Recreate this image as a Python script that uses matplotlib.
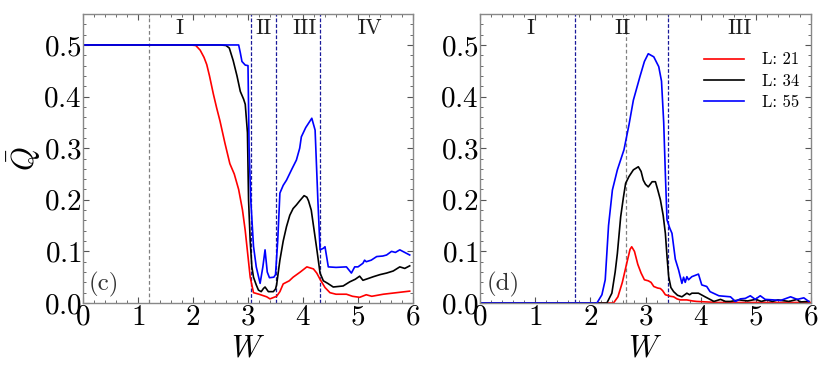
import numpy as np
import matplotlib
matplotlib.use("Agg")
import matplotlib.pyplot as plt
from matplotlib.ticker import MultipleLocator

plt.rcParams['font.family'] = 'serif'
plt.rcParams['font.serif'] = ['cmr10', 'DejaVu Serif']
plt.rcParams['mathtext.fontset'] = 'cm'
plt.rcParams['axes.formatter.use_mathtext'] = True
plt.rcParams['axes.unicode_minus'] = False

# ---------------- panel (c) ----------------
w_c21 = [0, 1.95, 2.05, 2.13, 2.2, 2.25, 2.3, 2.37, 2.43, 2.49, 2.58, 2.67, 2.75, 2.83, 2.9, 2.95, 3.0, 3.04, 3.1,
         3.2, 3.34, 3.4, 3.52, 3.58, 3.64, 3.75, 3.82, 3.95, 4.07, 4.19, 4.25, 4.31, 4.4, 4.49, 4.6, 4.79,
         4.9, 5.03, 5.15, 5.25, 5.46, 5.7, 5.94]
q_c21 = [0.5, 0.5, 0.499, 0.49, 0.476, 0.462, 0.44, 0.405, 0.378, 0.353, 0.31, 0.27, 0.25, 0.22, 0.18, 0.14, 0.09,
         0.05, 0.02, 0.017, 0.012, 0.008, 0.013, 0.022, 0.037, 0.043, 0.05, 0.06, 0.07, 0.066, 0.058, 0.046, 0.03,
         0.02, 0.017, 0.017, 0.013, 0.011, 0.016, 0.013, 0.017, 0.02, 0.023]

w_c34 = [0, 2.5, 2.6, 2.66, 2.73, 2.8, 2.86, 2.92, 2.95, 2.99, 3.01, 3.04, 3.07, 3.1, 3.15, 3.19, 3.24, 3.28, 3.31,
         3.37, 3.42, 3.46, 3.5, 3.52, 3.58, 3.64, 3.7, 3.76, 3.82, 3.88, 3.94, 4.02, 4.07, 4.1, 4.15, 4.19, 4.25,
         4.31, 4.37, 4.45, 4.55, 4.73, 4.85, 4.95, 5.03, 5.09, 5.2, 5.28, 5.4, 5.52, 5.64, 5.76, 5.85, 5.94]
q_c34 = [0.5, 0.5, 0.499, 0.494, 0.47, 0.44, 0.41, 0.395, 0.385, 0.33, 0.2, 0.12, 0.07, 0.05, 0.035, 0.025, 0.022,
         0.028, 0.031, 0.022, 0.022, 0.022, 0.027, 0.035, 0.083, 0.12, 0.148, 0.17, 0.183, 0.19, 0.198, 0.208,
         0.205, 0.198, 0.18, 0.15, 0.105, 0.058, 0.043, 0.038, 0.031, 0.033, 0.041, 0.046, 0.052, 0.044, 0.048,
         0.051, 0.055, 0.058, 0.062, 0.07, 0.067, 0.072]

w_c55 = [0, 2.83, 2.86, 2.89, 2.95, 3.0, 3.02, 3.05, 3.1, 3.15, 3.22, 3.27, 3.31, 3.35, 3.39, 3.47, 3.5, 3.54,
         3.58, 3.64, 3.7, 3.8, 3.88, 3.94, 3.97, 4.05, 4.16, 4.22, 4.27, 4.31, 4.37, 4.4, 4.46, 4.6, 4.79,
         4.88, 4.94, 5.0, 5.09, 5.12, 5.15, 5.24, 5.34, 5.45, 5.52, 5.61, 5.68, 5.76, 5.85, 5.94]
q_c55 = [0.5, 0.5, 0.485, 0.468, 0.461, 0.46, 0.3, 0.2, 0.11, 0.07, 0.038, 0.07, 0.103, 0.06, 0.049, 0.05, 0.055,
         0.12, 0.213, 0.228, 0.238, 0.26, 0.277, 0.3, 0.322, 0.34, 0.358, 0.335, 0.2, 0.103, 0.106, 0.109, 0.07,
         0.069, 0.07, 0.058, 0.07, 0.07, 0.077, 0.083, 0.08, 0.083, 0.09, 0.091, 0.093, 0.1, 0.098, 0.103, 0.098,
         0.093]

# ---------------- panel (d) ----------------
w_d21 = [0, 2.42, 2.5, 2.58, 2.66, 2.72, 2.75, 2.8, 2.86, 2.92, 2.98, 3.05, 3.1, 3.15, 3.22, 3.27, 3.31, 3.36,
         3.45, 3.51, 3.57, 3.63, 3.75, 3.85, 3.93, 4.3, 6.0]
q_d21 = [0, 0, 0.012, 0.04, 0.077, 0.104, 0.109, 0.1, 0.075, 0.058, 0.045, 0.043, 0.04, 0.032, 0.029, 0.028, 0.024,
         0.016, 0.013, 0.012, 0.008, 0.006, 0.006, 0.004, 0.003, 0.001, 0.001]

w_d34 = [0, 2.3, 2.39, 2.45, 2.49, 2.55, 2.6, 2.64, 2.7, 2.78, 2.87, 2.92, 2.96, 3.0, 3.05, 3.12, 3.18, 3.22, 3.27,
         3.32, 3.36, 3.39, 3.42, 3.46, 3.51, 3.58, 3.66, 3.75, 3.8, 3.84, 3.96, 4.08, 4.24, 4.36, 4.45, 4.54, 4.7,
         4.85, 5.0, 5.1, 5.2, 5.3, 5.4, 5.6, 5.75, 5.8, 5.96]
q_d34 = [0, 0, 0.019, 0.06, 0.096, 0.167, 0.205, 0.232, 0.245, 0.258, 0.264, 0.255, 0.238, 0.23, 0.225, 0.235,
         0.235, 0.22, 0.2, 0.17, 0.135, 0.09, 0.051, 0.03, 0.022, 0.015, 0.012, 0.019, 0.016, 0.019, 0.019, 0.012,
         0.003, 0.007, 0.003, 0.003, 0.006, 0.004, 0.007, 0.003, 0.006, 0.003, 0.006, 0.003, 0.007, 0.002, 0.003]

w_d55 = [0, 2.12, 2.21, 2.27, 2.33, 2.4, 2.49, 2.61, 2.7, 2.78, 2.9, 2.98, 3.05, 3.15, 3.24, 3.29, 3.33, 3.36,
         3.39, 3.44, 3.48, 3.54, 3.6, 3.66, 3.69, 3.72, 3.75, 3.78, 3.84, 3.96, 4.02, 4.11, 4.17, 4.25, 4.33,
         4.54, 4.63, 4.72, 4.81, 4.9, 4.99, 5.08, 5.17, 5.32, 5.45, 5.63, 5.75, 5.87, 5.96]
q_d55 = [0, 0, 0.016, 0.045, 0.15, 0.219, 0.258, 0.297, 0.345, 0.393, 0.439, 0.468, 0.483, 0.477, 0.458, 0.43,
         0.35, 0.25, 0.161, 0.145, 0.135, 0.085, 0.064, 0.038, 0.05, 0.04, 0.051, 0.045, 0.051, 0.056, 0.035,
         0.032, 0.022, 0.018, 0.014, 0.012, 0.003, 0.008, 0.009, 0.014, 0.007, 0.014, 0.007, 0.006, 0.005, 0.012,
         0.007, 0.01, 0.003]

vl_c_gray = [1.2]
vl_c_blue = [3.05, 3.5, 4.3]
vl_d_gray = [2.65]
vl_d_blue = [1.73, 3.4]

regions_c = [("I", 1.76), ("II", 3.29), ("III", 4.02), ("IV", 5.22)]
regions_d = [("I", 0.91), ("II", 2.58), ("III", 4.71)]

fig = plt.figure(figsize=(8.31, 3.76), dpi=100)
ax1 = fig.add_axes([83 / 831, 1 - 303 / 376, 330 / 831, 289 / 376])
ax2 = fig.add_axes([480 / 831, 1 - 303 / 376, 331 / 831, 289 / 376])

def style(ax):
    ax.set_xlim(0, 6)
    ax.set_ylim(0, 0.56)
    ax.xaxis.set_major_locator(MultipleLocator(1))
    ax.xaxis.set_minor_locator(MultipleLocator(0.2))
    ax.yaxis.set_major_locator(MultipleLocator(0.1))
    ax.yaxis.set_minor_locator(MultipleLocator(0.02))
    ax.tick_params(which='both', direction='in', top=True, right=True, labelsize=21,
                   color='#555555', pad=1)
    ax.tick_params(which='major', length=4)
    ax.tick_params(which='minor', length=2)
    for s in ax.spines.values():
        s.set_color('#888888')
        s.set_linewidth(1.0)
    ax.set_xlabel('$W$', fontsize=22, labelpad=3)

style(ax1)
style(ax2)

for x in vl_c_gray:
    ax1.axvline(x, color='#808080', ls='--', lw=0.9, dashes=(3, 2))
for x in vl_c_blue:
    ax1.axvline(x, color='#1a1a9a', ls='--', lw=0.9, dashes=(3, 1.5))
for x in vl_d_gray:
    ax2.axvline(x, color='#808080', ls='--', lw=0.9, dashes=(3, 2))
for x in vl_d_blue:
    ax2.axvline(x, color='#1a1a9a', ls='--', lw=0.9, dashes=(3, 1.5))

ax1.plot(w_c21, q_c21, color='#ff0000', lw=1.2)
ax1.plot(w_c34, q_c34, color='black', lw=1.2)
ax1.plot(w_c55, q_c55, color='#0000ff', lw=1.2)

ax2.plot(w_d21, q_d21, color='#ff0000', lw=1.2, label='L: 21')
ax2.plot(w_d34, q_d34, color='black', lw=1.2, label='L: 34')
ax2.plot(w_d55, q_d55, color='#0000ff', lw=1.2, label='L: 55')

for lab, x in regions_c:
    ax1.text(x, 0.532, lab, ha='center', va='center', fontsize=16, color='#222222')
for lab, x in regions_d:
    ax2.text(x, 0.532, lab, ha='center', va='center', fontsize=16, color='#222222')

ax1.text(0.1, 0.036, '(c)', fontsize=18, color='#333333', va='center')
ax2.text(0.12, 0.036, '(d)', fontsize=18, color='#333333', va='center')

ax1.set_ylabel(r'$\bar{Q}$', fontsize=22, labelpad=0)

ax2.legend(loc='upper right', frameon=False, fontsize=12, handlelength=2.4,
           bbox_to_anchor=(1.01, 0.92), labelspacing=0.35, handletextpad=1.1)

fig.savefig('out.png', dpi=100)
